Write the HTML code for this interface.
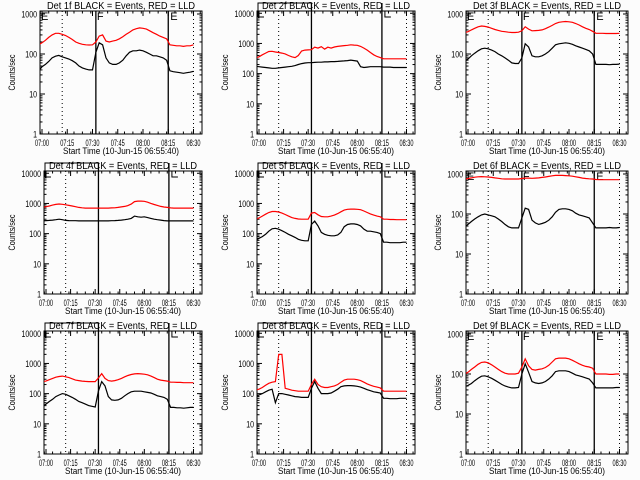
<!DOCTYPE html>
<html><head><meta charset="utf-8">
<style>
html,body{margin:0;padding:0;background:#fcfcfc;}
svg{display:block;}
text{font-family:"Liberation Sans",sans-serif;fill:#000;}
</style></head>
<body>
<svg id="chart" width="640" height="480" viewBox="0 0 640 480" xmlns="http://www.w3.org/2000/svg"></svg>
<script>
// minutes relative to 07:00 for each sample
const times = [];
for (let i = 0; i < 47; i++) times.push(-2 + 2 * i);
const tickLabels = ["07:00","07:15","07:30","07:45","08:00","08:15","08:30"];
const tickMinutes = [0,15,30,45,60,75,90];
const dottedLines = [12, 90];
const solidLines = [32, 75];
const detNames = ["1f","2f","3f","4f","5f","6f","7f","8f","9f"];
const yTopDecade = [3,4,3,4,4,3,4,4,3];

const red1 = [170,190,220,260,300,330,330,310,290,260,230,200,185,175,170,168,170,200,280,300,210,200,210,220,240,270,310,350,400,430,450,440,420,380,340,310,280,260,240,170,165,160,160,155,160,160,170];
const blk1 = [38,48,55,65,80,88,92,85,80,75,68,60,50,45,42,40,40,110,190,170,80,60,55,55,60,70,90,110,120,120,125,120,110,100,90,90,85,80,70,38,36,35,34,33,34,35,37];
const red2 = [330,360,420,480,540,550,520,500,480,450,400,360,340,400,560,600,610,620,750,700,780,650,750,700,760,800,820,850,870,900,880,870,800,700,600,500,420,370,340,310,310,310,310,310,310,310,310];
const blk2 = [175,170,165,160,155,150,150,155,160,165,170,175,185,200,215,225,230,230,235,240,240,245,245,250,250,255,260,265,270,280,270,260,170,160,165,170,170,170,170,165,165,165,160,160,160,160,160];
const red3 = [340,360,400,440,480,500,490,470,440,410,390,370,360,350,345,345,350,380,480,420,380,385,390,400,430,470,520,580,620,640,650,640,620,580,530,480,440,410,370,330,330,330,325,325,325,325,330];
const blk3 = [65,75,90,105,120,135,140,135,125,115,100,90,80,70,60,58,58,80,180,150,90,85,85,90,100,115,140,170,180,185,190,185,175,160,150,140,130,120,100,55,55,55,55,54,55,55,56];
const red4 = [750,780,820,880,930,960,940,900,860,820,780,740,720,700,700,700,700,700,700,700,700,710,720,740,770,800,850,950,1150,1200,1200,1180,1100,1000,920,860,800,760,740,710,700,700,700,700,700,700,700];
const blk4 = [265,270,275,280,290,300,290,275,270,268,268,265,265,265,265,265,265,265,265,265,265,268,270,275,280,290,300,320,380,360,350,360,340,320,300,290,280,270,265,265,265,265,265,265,265,265,265];
const red5 = [300,330,380,440,500,540,540,520,480,430,380,340,320,305,300,300,300,480,500,420,370,360,360,380,410,460,530,600,640,650,650,640,620,560,500,450,410,380,360,300,300,295,295,290,290,290,290];
const blk5 = [60,70,80,95,120,145,150,140,125,110,95,85,75,65,60,58,58,200,260,180,110,95,88,85,85,90,110,170,200,210,210,200,180,140,120,120,115,110,100,52,52,50,50,50,50,52,52];
const red6 = [740,770,800,830,850,860,850,840,820,800,780,760,750,750,750,750,750,770,790,790,780,790,800,820,840,870,900,920,920,920,910,900,880,850,820,790,770,760,750,730,720,720,720,720,720,720,720];
const blk6 = [48,55,65,75,85,95,100,95,90,85,75,65,55,48,45,45,45,80,140,130,70,60,55,58,62,70,85,110,130,135,135,130,120,105,95,90,85,80,60,45,45,45,45,46,45,45,46];
const red7 = [250,260,290,320,350,370,380,360,340,310,280,270,260,255,250,250,250,330,460,320,270,260,270,290,320,360,400,430,450,460,450,440,420,380,340,300,280,270,260,240,240,235,235,230,230,230,230];
const blk7 = [38,45,55,65,80,90,100,95,85,75,65,55,50,45,40,38,36,120,250,180,80,62,60,62,70,85,100,115,120,120,120,115,110,105,95,85,80,75,65,35,35,34,34,33,34,35,35];
const red8 = [130,140,160,190,220,240,250,2000,2000,150,140,130,125,120,120,120,120,200,300,200,170,160,160,170,180,200,240,280,300,300,300,290,270,240,210,190,175,165,155,120,120,120,120,120,120,120,120];
const blk8 = [80,90,100,115,130,140,50,100,100,95,90,85,80,78,75,75,75,150,250,150,100,100,100,105,120,140,170,180,185,185,180,175,165,150,135,125,115,110,105,70,70,68,68,68,70,70,70];
const red9 = [100,110,130,150,175,195,200,190,170,150,130,115,105,100,100,100,105,150,240,160,130,125,130,135,145,165,200,240,250,250,250,240,220,200,180,165,155,150,140,100,100,100,100,98,98,100,100];
const blk9 = [48,52,58,68,78,88,90,85,78,70,62,55,50,47,45,45,46,100,180,110,65,60,58,60,65,75,90,115,120,120,120,115,105,95,90,85,80,75,60,45,45,45,45,45,45,46,46];

const redSeries = [red1,red2,red3,red4,red5,red6,red7,red8,red9];
const blackSeries = [blk1,blk2,blk3,blk4,blk5,blk6,blk7,blk8,blk9];

const NS = "http://www.w3.org/2000/svg";
const svg = document.getElementById("chart");
function mk(tag, attrs, parent) {
  const e = document.createElementNS(NS, tag);
  for (const k in attrs) e.setAttribute(k, attrs[k]);
  (parent || svg).appendChild(e);
  return e;
}
const colRight = [202, 415, 628];
const rowTop = [11, 171, 331];
const H = 123;

for (let p = 0; p < 9; p++) {
  const col = p % 3, row = Math.floor(p / 3);
  const dec = yTopDecade[p];
  const W = dec === 4 ? 158 : 162;
  const R = colRight[col], L = R - W, T = rowTop[row], B = T + H;
  const g = mk("g", {});
  
  
  const yMaxLog = dec + 0.075;
  const ys = v => B - (Math.log10(Math.max(v, 1)) / yMaxLog) * H;
  const pxPerMin = (W - 10.5) / 90;
  const xs = t => L + 2 + t * pxPerMin;
  const clip = "clip" + p;
  const cp = mk("clipPath", {id: clip}, g);
  mk("rect", {x: L, y: T, width: W, height: H}, cp);

  // title
  const title = mk("text", {x: (L + R) / 2 - 74, y: T - 2, "font-size": 10, textLength: 148, lengthAdjust: "spacingAndGlyphs"}, g);
  title.textContent = "Det " + detNames[p] + " BLACK = Events, RED = LLD";
  
  

  // axes box
  const box = mk("rect", {x: L, y: T, width: W, height: H, fill: "none", stroke: "#000", "stroke-width": 1}, g);
  
  

  // y ticks
  for (let d = 0; d <= dec; d++) {
    const y = ys(Math.pow(10, d));
    mk("line", {x1: L, x2: L + 5, y1: y, y2: y, stroke: "#000"}, g);
    mk("line", {x1: R - 5, x2: R, y1: y, y2: y, stroke: "#000"}, g);
    const s = String(Math.pow(10, d));
    const tl = s.length * 3.9;
    const lab = mk("text", {x: L - 3 - tl, y: y + 3.5, "font-size": 9.5, textLength: tl, lengthAdjust: "spacingAndGlyphs"}, g);
    lab.textContent = s;
    
    
    if (d < dec) {
      for (let m = 2; m <= 9; m++) {
        const ym = ys(m * Math.pow(10, d));
        mk("line", {x1: L, x2: L + 2.5, y1: ym, y2: ym, stroke: "#000"}, g);
        mk("line", {x1: R - 2.5, x2: R, y1: ym, y2: ym, stroke: "#000"}, g);
      }
    }
  }
  // x ticks
  for (let i = 0; i < tickMinutes.length; i++) {
    const x = xs(tickMinutes[i]);
    mk("line", {x1: x, x2: x, y1: B, y2: B - 5, stroke: "#000"}, g);
    mk("line", {x1: x, x2: x, y1: T, y2: T + 5, stroke: "#000"}, g);
    const lab = mk("text", {x: x - 7, y: B + 12, "font-size": 9.5, textLength: 14, lengthAdjust: "spacingAndGlyphs"}, g);
    lab.textContent = tickLabels[i];
    
    
  }
  for (let m = -1; m <= 95; m += 5) {
    if (m % 15 === 0) continue;
    const x = xs(m);
    if (x <= L || x >= R) continue;
    mk("line", {x1: x, x2: x, y1: B, y2: B - 2.5, stroke: "#000"}, g);
    mk("line", {x1: x, x2: x, y1: T, y2: T + 2.5, stroke: "#000"}, g);
  }
  const xt = mk("text", {x: (L + R) / 2 - 58, y: B + 20, "font-size": 9.5, textLength: 116, lengthAdjust: "spacingAndGlyphs"}, g);
  xt.textContent = "Start Time (10-Jun-15 06:55:40)";
  
  
  const yx = col * 213 + 15, yy = (T + B) / 2;
  const yt = mk("text", {x: yx - 18, y: yy, "font-size": 9, textLength: 36, lengthAdjust: "spacingAndGlyphs", transform: "rotate(-90 " + yx + " " + yy + ")"}, g);
  yt.textContent = "Counts/sec";
  
  

  // vertical markers
  for (const t of dottedLines) {
    const x = xs(t);
    const l = mk("line", {x1: x, x2: x, y1: T, y2: B, stroke: "#000", "stroke-dasharray": "1 3"}, g);
    
    
  }
  for (const t of solidLines) {
    const x = xs(t);
    const l = mk("line", {x1: x, x2: x, y1: dec === 4 ? 3 + row * 160 : T, y2: B, stroke: "#000", "stroke-width": 1.3}, g);
    
    
  }
  if (dec === 4) {
    const x1 = xs(solidLines[0]), x2 = xs(solidLines[1]);
    mk("path", {d: "M" + (L + 1) + " " + (T + 6) + " V" + (3 + row * 160) + " H" + x1, fill: "none", stroke: "#000"}, g);
    mk("path", {d: "M" + (L + 1) + " " + (T + 6) + " H" + (L + 7), fill: "none", stroke: "#000"}, g);
    mk("path", {d: "M" + (x2 + 3) + " " + T + " V" + (T + 6) + " H" + (x2 + 9), fill: "none", stroke: "#000"}, g);
  } else {
    const letters = ["E", "F", "E"];
    const lx = [L + 1, xs(solidLines[0]) + 1, xs(solidLines[1]) + 2];
    for (let k = 0; k < 3; k++) {
      const e = mk("text", {x: lx[k], y: T + 9, "font-size": 11}, g);
      e.textContent = letters[k];
      
      
    }
  }

  // series
  const drawSeries = (vals, color, name) => {
    let d = "";
    for (let i = 0; i < vals.length; i++) {
      const t = Math.min(times[i], dottedLines[1]);
      d += (i ? "L" : "M") + xs(t).toFixed(1) + " " + ys(vals[i]).toFixed(1);
    }
    const path = mk("path", {d: d, fill: "none", stroke: color, "stroke-width": 1.2, "clip-path": "url(#" + clip + ")"}, g);
    
    
  };
  drawSeries(redSeries[p], "#ff0000", "lld-series-red");
  drawSeries(blackSeries[p], "#000000", "events-series-black");
}
</script>
</body></html>
